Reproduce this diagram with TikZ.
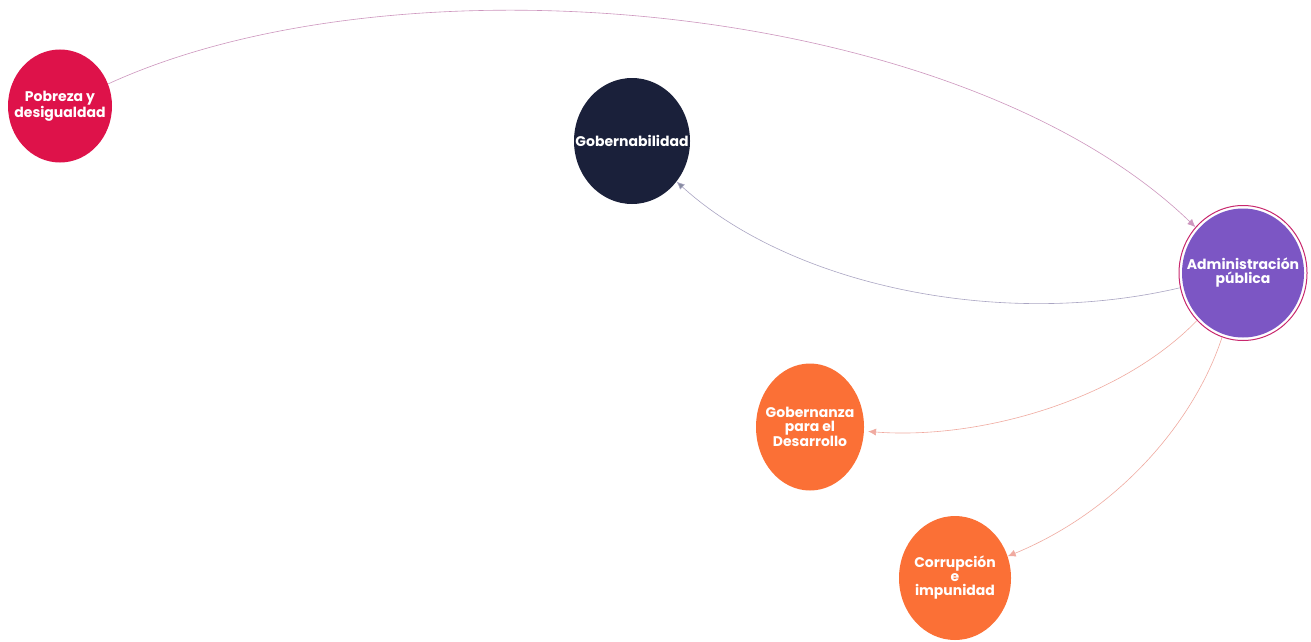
\documentclass[tikz,border=0pt]{standalone}
\usepackage{fontspec}
\setmainfont{Poppins}
\usetikzlibrary{shapes.geometric,arrows.meta}
\definecolor{cpob}{RGB}{222,18,74}
\definecolor{cgob}{RGB}{26,32,58}
\definecolor{cadm}{RGB}{124,86,196}
\definecolor{cora}{RGB}{251,112,54}
\definecolor{cring}{RGB}{200,40,110}
\definecolor{lpob}{RGB}{205,150,190}
\definecolor{lgob}{RGB}{170,165,195}
\definecolor{lora}{RGB}{240,170,160}
\definecolor{agob}{RGB}{135,140,160}
\begin{document}
\begin{tikzpicture}[x=1pt,y=-1pt,
  bubble/.style={ellipse,inner sep=0pt},
  txt/.style={text=white,align=center,inner sep=0pt,
    font=\bfseries\fontsize{14}{14}\selectfont},
  conn/.style={line width=0.6pt,-{Latex[length=8pt,width=7pt,fill=#1]}}]
\useasboundingbox (0,0) rectangle (1311,642);
\fill[white] (0,0) rectangle (1311,642);
\node[bubble,fill=cpob,minimum width=104pt,minimum height=113pt] (pob) at (60,106) {};
\node[txt] (tpob) at (pob.center) {Pobreza y\\desigualdad};
\node[bubble,fill=cgob,minimum width=116pt,minimum height=126pt] (gob) at (632,141) {};
\node[txt] (tgob) at (gob.center) {Gobernabilidad};
\node[bubble,draw=cring,line width=1pt,fill=white,minimum width=128pt,minimum height=135pt] (admring) at (1243,273) {};
\node[bubble,fill=cadm,minimum width=122pt,minimum height=129pt] (adm) at (1243,273) {};
\node[txt] (tadm) at (adm.center) {Administración\\pública};
\node[bubble,fill=cora,minimum width=108pt,minimum height=127pt] (gdes) at (810,427) {};
\node[txt] (tgdes) at (gdes.center) {Gobernanza\\para el\\Desarrollo};
\node[bubble,fill=cora,minimum width=112pt,minimum height=124pt] (cor) at (955,578) {};
\node[txt] (tcor) at (cor.center) {Corrupción\\e\\impunidad};
\draw[conn=lpob,draw=lpob] (pob) .. controls (400,-50) and (960,0) .. (admring);
\draw[conn=agob,draw=lgob] (admring) .. controls (1000,330) and (790,285) .. (gob);
\draw[conn=lora,draw=lora,shorten >=4pt] (admring) .. controls (1120,400) and (980,440) .. (gdes);
\draw[conn=lora,draw=lora] (admring) .. controls (1195,420) and (1120,510) .. (cor);
\end{tikzpicture}
\end{document}
